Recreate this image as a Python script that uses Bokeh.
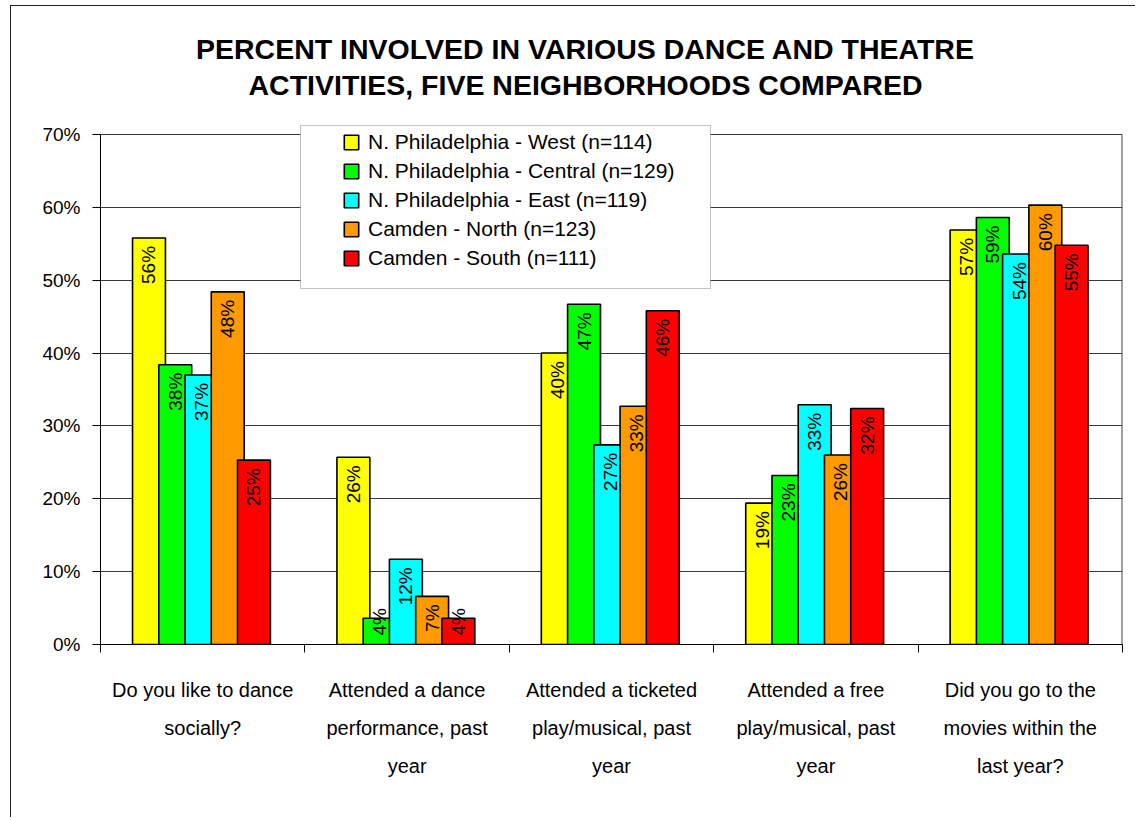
import numpy as np
from bokeh.plotting import figure
from bokeh.models import (Range1d, FixedTicker, PrintfTickFormatter, Legend, LegendItem,
                          BoxAnnotation, Label, ColumnDataSource)
from bokeh.core.properties import value
from bokeh.embed import file_html
from bokeh.resources import INLINE

# ---------------- data ----------------
title_lines = ["PERCENT INVOLVED IN VARIOUS DANCE AND THEATRE",
               "ACTIVITIES, FIVE NEIGHBORHOODS COMPARED"]
categories = [
    "Do you like to dance\nsocially?",
    "Attended a dance\nperformance, past\nyear",
    "Attended a ticketed\nplay/musical, past\nyear",
    "Attended a free\nplay/musical, past\nyear",
    "Did you go to the\nmovies within the\nlast year?",
]
series_names = [
    "N. Philadelphia - West (n=114)",
    "N. Philadelphia - Central (n=129)",
    "N. Philadelphia - East (n=119)",
    "Camden - North (n=123)",
    "Camden - South (n=111)",
]
series_colors = ["#FFFF00", "#00FF00", "#00FFFF", "#FF9900", "#FF0000"]
west = [55.8, 25.7, 40.0, 19.4, 56.9]
central = [38.4, 3.6, 46.7, 23.2, 58.6]
east = [37.0, 11.7, 27.4, 32.9, 53.6]
north = [48.4, 6.6, 32.7, 26.0, 60.3]
south = [25.3, 3.6, 45.8, 32.4, 54.8]
y_ticks = [0, 10, 20, 30, 40, 50, 60, 70]

series_values = [west, central, east, north, south]

# ---------------- layout constants ----------------
FONT = "Liberation Sans"
OX, OY = 11, 6                 # canvas offset inside page (chart-area border)
W, H = 1125, 812
FL, FR, FB = 100, 1122, 644    # frame edges in page pixels
Y70 = 134                      # page y of the top gridline
px_per_unit = (FB - Y70) / (y_ticks[-1] - y_ticks[0])
# the frame reaches the top of the canvas so that title & legend box are not clipped
y_top = y_ticks[-1] + (Y70 - OY) / px_per_unit

p = figure(width=W, height=H, x_range=Range1d(0, len(categories)),
           y_range=Range1d(y_ticks[0], y_top),
           output_backend="svg", toolbar_location=None,
           min_border_left=FL - OX, min_border_right=W - (FR - OX),
           min_border_top=0, min_border_bottom=H - (FB - OY))
p.outline_line_color = None
p.background_fill_color = "white"
p.border_fill_color = "white"
p.styles = {"margin-left": "10px", "margin-top": "5px",
            "border-left": "1px solid #222222", "border-top": "1px solid #222222"}

# x axis: labels at category centres, ticks at category boundaries
n = len(categories)
centers = [i + 0.5 for i in range(n)]
xa = p.xaxis[0]
xa.ticker = FixedTicker(ticks=centers, minor_ticks=list(range(n + 1)))
xa.major_label_overrides = {c: lab for c, lab in zip(centers, categories)}
xa.major_tick_out = 0
xa.major_tick_in = 0
xa.minor_tick_out = 8
xa.minor_tick_in = 0
xa.minor_tick_line_color = "black"
xa.axis_line_color = "black"
xa.major_label_text_font = FONT
xa.major_label_text_font_size = "20px"
xa.major_label_text_color = "black"
xa.major_label_text_line_height = 1.74
xa.major_label_standoff = 26

ya = p.yaxis[0]
ya.ticker = FixedTicker(ticks=y_ticks)
ya.formatter = PrintfTickFormatter(format="%d%%")
ya.bounds = (y_ticks[0], y_ticks[-1])
ya.major_tick_out = 8
ya.major_tick_in = 0
ya.minor_tick_out = 0
ya.minor_tick_in = 0
ya.axis_line_color = "black"
ya.major_tick_line_color = "black"
ya.major_label_text_font = FONT
ya.major_label_text_font_size = "19px"
ya.major_label_text_color = "black"
ya.major_label_standoff = 12

p.xgrid.visible = False
p.ygrid.grid_line_color = "#3a3a3a"
p.ygrid.grid_line_width = 1

# right edge line of the plot area
p.segment(x0=[n], y0=[y_ticks[0]], x1=[n], y1=[y_ticks[-1]], line_color="#444444", line_width=2)

# ---------------- bars ----------------
group_center = 0.494
step = 0.1284
bar_w = 0.161
renderers = []
for i, (name, vals, col) in enumerate(zip(series_names, series_values, series_colors)):
    xs = [k + group_center + (i - 2) * step for k in range(n)]
    src = ColumnDataSource(dict(x=xs, top=vals))
    r = p.vbar(x="x", top="top", width=bar_w, bottom=0, source=src,
               fill_color=col, line_color="black", line_width=1.6)
    renderers.append(r)

# value labels (rotated, inside end)
for i, vals in enumerate(series_values):
    xs = [k + group_center + (i - 2) * step for k in range(n)]
    big = [j for j, v in enumerate(vals) if v >= 5]
    small = [j for j, v in enumerate(vals) if v < 5]
    if big:
        p.text(x=[xs[j] for j in big], y=[vals[j] for j in big],
               text=[f"{round(vals[j])}%" for j in big],
               angle=np.pi / 2, text_align="right", text_baseline="middle",
               y_offset=8, text_font=value(FONT), text_font_size="19px",
               text_color="black")
    if small:
        p.text(x=[xs[j] for j in small], y=[0 for j in small],
               text=[f"{round(vals[j])}%" for j in small],
               angle=np.pi / 2, text_align="left", text_baseline="middle",
               y_offset=-9, text_font=value(FONT), text_font_size="19px",
               text_color="black")

# ---------------- legend ----------------
p.add_layout(BoxAnnotation(left=299 - OX, right=709 - OX, top=124 - OY, bottom=287 - OY,
                           left_units="canvas", right_units="canvas",
                           top_units="canvas", bottom_units="canvas",
                           fill_color="white", fill_alpha=1.0,
                           line_color="#333333", line_width=1))
legend = Legend(items=[LegendItem(label=s, renderers=[r]) for s, r in zip(series_names, renderers)],
                location=(342 - FL, FB - 272), padding=0, spacing=0, margin=0,
                glyph_width=18, glyph_height=18, label_standoff=8, label_height=29,
                label_text_font=FONT, label_text_font_size="21px",
                label_text_color="black",
                border_line_color=None, background_fill_alpha=0)
p.add_layout(legend, "center")

# ---------------- title (two lines, centred on the chart area) ----------------
for k, line in enumerate(title_lines):
    p.add_layout(Label(x=584 - OX, y=47 - OY + 36 * k, x_units="canvas", y_units="canvas",
                       text=line, text_align="center", text_baseline="middle",
                       text_font=FONT, text_font_size="28.5px", text_font_style="bold",
                       text_color="black"))

open("out.html", "w").write(file_html(p, INLINE))
